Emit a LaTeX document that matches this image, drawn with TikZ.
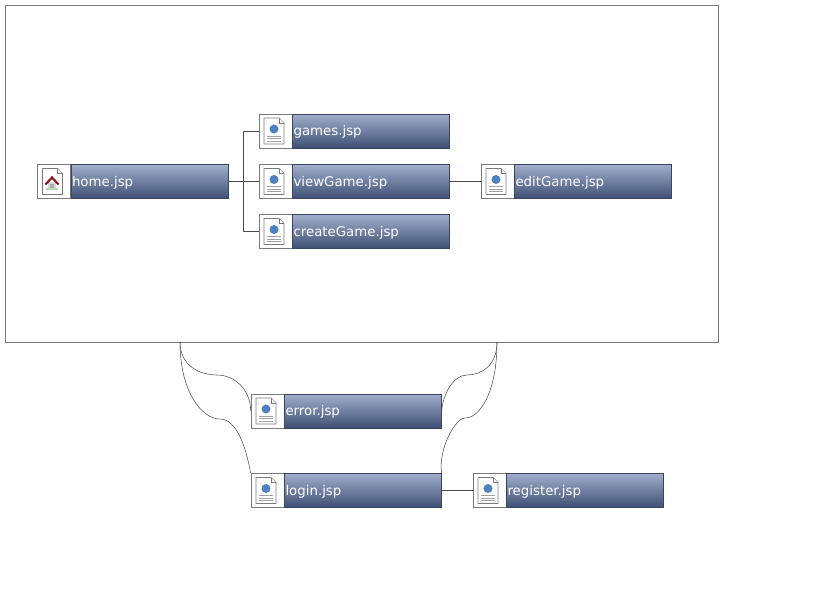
\documentclass[tikz,border=0pt]{standalone}
\usepackage{fontspec}
\setmainfont{DejaVu Sans}
\definecolor{BarTop}{HTML}{A0AECB}
\definecolor{BarBottom}{HTML}{3F5075}
\definecolor{BarEdge}{HTML}{3A4660}
\definecolor{LineDark}{HTML}{4A4A4A}
\definecolor{FrameGray}{HTML}{7A7A7A}
\definecolor{DotBlue}{HTML}{4F81BD}
\definecolor{RoofRed}{HTML}{8C1A1A}
\usetikzlibrary{positioning,calc}
\tikzset{
  iconNode/.style={draw=FrameGray, fill=white, minimum width=24.75pt, minimum height=25.5pt, inner sep=0pt, line width=0.5pt},
  barNode/.style={draw=BarEdge, line width=0.3pt, top color=BarTop, bottom color=BarBottom, minimum height=25.5pt, inner sep=0pt, inner xsep=0.75pt, text=white, align=left, text width=116.25pt, text height=8pt, text depth=1pt, font=\fontsize{10pt}{12pt}\selectfont},
  frameNode/.style={draw=FrameGray, line width=0.5pt, minimum width=534.75pt, minimum height=252.75pt, inner sep=0pt},
  wire/.style={draw=LineDark, line width=0.45pt},
  curveWire/.style={draw=LineDark, line width=0.4pt},
  sheet/.style={draw=FrameGray, fill=white, line width=0.6pt},
  pics/pageSheet/.style={code={
    \draw[sheet] (-11.5,-13) -- (3.5,-13) -- (8.5,-8) -- (8.5,13) -- (-11.5,13) -- cycle;
    \draw[sheet, line width=0.4pt] (3.5,-13) -- (3.5,-8) -- (8.5,-8);
    \fill[DotBlue] (-1.5,-2) circle (4.5);
    \draw[FrameGray!70, line width=0.4pt] (-8.5,5) -- (5.5,5) (-8.5,7.5) -- (5.5,7.5) (-8.5,10) -- (5.5,10);
  }},
  pics/homeSheet/.style={code={
    \draw[sheet] (-11.5,-13) -- (3.5,-13) -- (8.5,-8) -- (8.5,13) -- (-11.5,13) -- cycle;
    \draw[sheet, line width=0.4pt] (3.5,-13) -- (3.5,-8) -- (8.5,-8);
    \fill[gray!30] (-6,0) rectangle (2,6);
    \fill[gray!65] (-4,2) rectangle (0,6);
    \fill[green!30!gray!45] (-8,6) rectangle (4,8);
    \draw[RoofRed, line width=1.6pt] (-8.5,3) -- (-2,-4) -- (4.5,3);
  }}
}
\begin{document}
\begin{tikzpicture}[x=0.75pt,y=-0.75pt]
  \useasboundingbox (0,0) rectangle (819,600);
  \node[frameNode] (frame) at (361.75,173.75) {};
  \coordinate (leftDrop) at (180,342);
  \coordinate (rightDrop) at (497,342);
  \coordinate (errorLeftBend) at (217,375);
  \coordinate (loginLeftBend) at (220,419);
  \coordinate (errorRightBend) at (467,375);
  \coordinate (loginRightBend) at (465,418);

  \node[iconNode] (homeIcon) at (54,181.5) {};
  \node[barNode, right=0pt of homeIcon] (home) {home.jsp};
  \pic at (homeIcon) {homeSheet};

  \node[iconNode] (gamesIcon) at (275.5,131) {};
  \node[barNode, right=0pt of gamesIcon] (games) {games.jsp};
  \pic at (gamesIcon) {pageSheet};

  \node[iconNode] (viewGameIcon) at (275.5,181.5) {};
  \node[barNode, right=0pt of viewGameIcon] (viewGame) {viewGame.jsp};
  \pic at (viewGameIcon) {pageSheet};

  \node[iconNode] (createGameIcon) at (275.5,231.5) {};
  \node[barNode, right=0pt of createGameIcon] (createGame) {createGame.jsp};
  \pic at (createGameIcon) {pageSheet};

  \node[iconNode] (editGameIcon) at (497.5,181.5) {};
  \node[barNode, right=0pt of editGameIcon] (editGame) {editGame.jsp};
  \pic at (editGameIcon) {pageSheet};

  \node[iconNode] (errorIcon) at (267.5,411) {};
  \node[barNode, right=0pt of errorIcon] (error) {error.jsp};
  \pic at (errorIcon) {pageSheet};

  \node[iconNode] (loginIcon) at (267.5,490.5) {};
  \node[barNode, right=0pt of loginIcon] (login) {login.jsp};
  \pic at (loginIcon) {pageSheet};

  \node[iconNode] (registerIcon) at (489.5,490.5) {};
  \node[barNode, right=0pt of registerIcon] (register) {register.jsp};
  \pic at (registerIcon) {pageSheet};

  \draw[wire] (home) -- (viewGameIcon);
  \draw[wire] (home.east) -- ++(15,0) |- (gamesIcon.west);
  \draw[wire] (home.east) -- ++(15,0) |- (createGameIcon.west);
  \draw[wire] (viewGame) -- (editGameIcon);
  \draw[wire] (login) -- (registerIcon);

  \draw[curveWire] (leftDrop) .. controls +(0,24) and +(-17,0) .. (errorLeftBend)
    .. controls +(18,0) and +(0,-21) .. (errorIcon.west);
  \draw[curveWire] (leftDrop) .. controls +(0,50) and +(-18,0) .. (loginLeftBend)
    .. controls +(16,0) and +(-5,-28) .. (loginIcon.north west);
  \draw[curveWire] (rightDrop) .. controls +(0,24) and +(14,0) .. (errorRightBend)
    .. controls +(-14,0) and +(1,-16) .. (error.east);
  \draw[curveWire] (rightDrop) .. controls +(0,50) and +(15,0) .. (loginRightBend)
    .. controls +(-10,0) and +(-4,-23) .. (login.north east);
\end{tikzpicture}
\end{document}
